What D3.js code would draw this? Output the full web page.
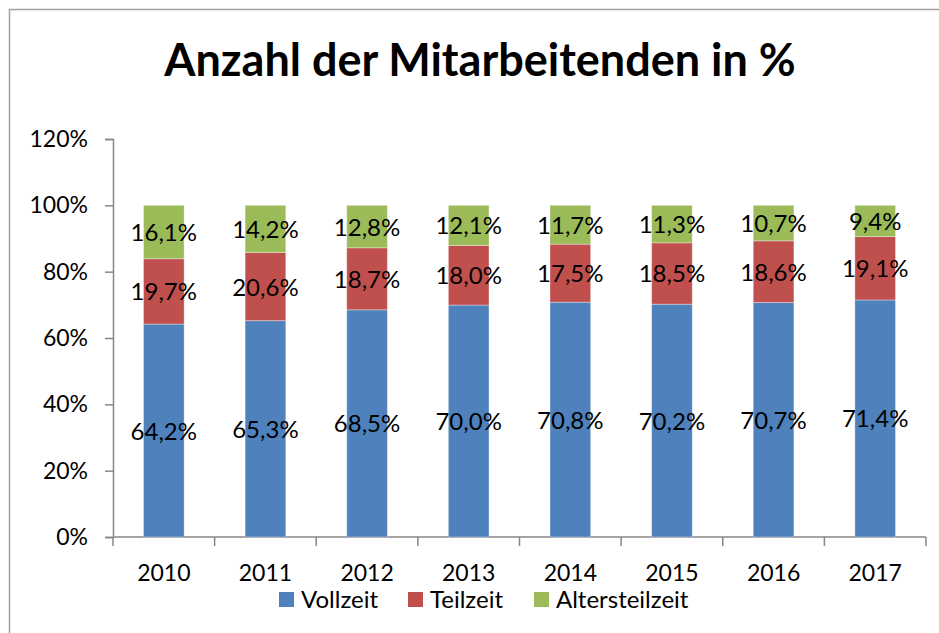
<!DOCTYPE html>
<html>
<head>
<meta charset="utf-8">
<script src="https://cdn.jsdelivr.net/npm/d3@7"></script>
<style>
  html, body { margin: 0; padding: 0; background: #fff; }
  svg { display: block; font-family: Lato, "Open Sans", sans-serif; }
</style>
</head>
<body>
<svg id="chart" width="939" height="633"></svg>
<script>
const years = ["2010", "2011", "2012", "2013", "2014", "2015", "2016", "2017"];
const vollzeit = [64.2, 65.3, 68.5, 70.0, 70.8, 70.2, 70.7, 71.4];
const teilzeit = [19.7, 20.6, 18.7, 18.0, 17.5, 18.5, 18.6, 19.1];
const altersteilzeit = [16.1, 14.2, 12.8, 12.1, 11.7, 11.3, 10.7, 9.4];
const seriesNames = ["Vollzeit", "Teilzeit", "Altersteilzeit"];
const seriesColors = ["#4f81bd", "#c0504d", "#9bbb59"];
const yTicks = [0, 0.2, 0.4, 0.6, 0.8, 1.0, 1.2];

const svg = d3.select("#chart");
const margin = { left: 113, right: 13, top: 139, bottom: 96 };
const width = 939, height = 633;
const axisColor = "#868686";

// chart frame (only top and left edges are in view)
svg.append("path")
    .attr("d", `M9.5,${height} V9.5 H${width}`)
    .attr("fill", "none")
    .attr("stroke", "#a0a0a0")
    .attr("stroke-width", 1.5);

svg.append("text")
    .attr("x", 480)
    .attr("y", 76)
    .attr("text-anchor", "middle")
    .attr("font-size", 45)
    .attr("font-weight", 700)
    .attr("fill", "#000")
    .text("Anzahl der Mitarbeitenden in %");

const rows = years.map((year, i) => ({
    year,
    Vollzeit: vollzeit[i],
    Teilzeit: teilzeit[i],
    Altersteilzeit: altersteilzeit[i]
}));

const stacked = d3.stack()
    .keys(seriesNames)
    .offset(d3.stackOffsetExpand)(rows);

const x = d3.scaleBand()
    .domain(years)
    .range([margin.left, width - margin.right])
    .paddingInner(0.6)
    .paddingOuter(0.3);

const y = d3.scaleLinear()
    .domain([0, 1.2])
    .range([height - margin.bottom, margin.top]);

const deFormat = d3.formatLocale({ decimal: ",", thousands: ".", grouping: [3], currency: ["", " €"] });
const pct0 = deFormat.format(".0%");

// y axis
const yAxis = svg.append("g")
    .attr("transform", `translate(${margin.left},0)`)
    .call(d3.axisLeft(y).tickValues(yTicks).tickFormat(pct0).tickSize(8).tickPadding(17));
yAxis.select(".domain").attr("stroke", axisColor).attr("stroke-width", 1.5);
yAxis.selectAll(".tick line").attr("stroke", axisColor).attr("stroke-width", 1.5);
yAxis.selectAll(".tick text")
    .attr("font-size", 23)
    .attr("font-family", "Lato, sans-serif")
    .attr("fill", "#000");

// x axis with ticks at category boundaries
const xAxisY = y(0);
const xg = svg.append("g");
xg.append("line")
    .attr("x1", margin.left)
    .attr("x2", width - margin.right)
    .attr("y1", xAxisY)
    .attr("y2", xAxisY)
    .attr("stroke", axisColor)
    .attr("stroke-width", 1.5);

const boundaries = d3.range(years.length + 1).map((i) => margin.left + i * (width - margin.right - margin.left) / years.length);
xg.selectAll("line.xtick")
    .data(boundaries)
    .join("line")
    .attr("class", "xtick")
    .attr("x1", (d) => d)
    .attr("x2", (d) => d)
    .attr("y1", xAxisY)
    .attr("y2", xAxisY + 9)
    .attr("stroke", axisColor)
    .attr("stroke-width", 1.5);

xg.selectAll("text.xlabel")
    .data(years)
    .join("text")
    .attr("class", "xlabel")
    .attr("x", (d) => x(d) + x.bandwidth() / 2)
    .attr("y", xAxisY + 44)
    .attr("text-anchor", "middle")
    .attr("font-size", 23)
    .attr("fill", "#000")
    .text((d) => d);

// bars
const layers = svg.append("g")
    .selectAll("g.layer")
    .data(stacked)
    .join("g")
    .attr("class", "layer")
    .attr("fill", (d, i) => seriesColors[i]);

layers.selectAll("rect")
    .data((d) => d)
    .join("rect")
    .attr("x", (d) => x(d.data.year))
    .attr("y", (d) => y(d[1]))
    .attr("width", x.bandwidth())
    .attr("height", (d) => y(d[0]) - y(d[1]))
    .attr("stroke", "rgba(255,255,255,0.35)")
    .attr("stroke-width", 1);

// data labels
const labelFmt = deFormat.format(".1f");
svg.append("g")
    .selectAll("g.labels")
    .data(stacked)
    .join("g")
    .selectAll("text")
    .data((layer) => layer.map((d) => ({ d, key: layer.key })))
    .join("text")
    .attr("x", (e) => x(e.d.data.year) + x.bandwidth() / 2)
    .attr("y", (e) => (y(e.d[0]) + y(e.d[1])) / 2 + 9)
    .attr("text-anchor", "middle")
    .attr("font-size", 24)
    .attr("fill", "#000")
    .text((e) => labelFmt(e.d.data[e.key]) + "%");

// legend
const legendItems = [
    { name: seriesNames[0], color: seriesColors[0], x: 279 },
    { name: seriesNames[1], color: seriesColors[1], x: 408 },
    { name: seriesNames[2], color: seriesColors[2], x: 534 }
];
const legend = svg.append("g").attr("transform", "translate(0,592)");
const li = legend.selectAll("g")
    .data(legendItems)
    .join("g")
    .attr("transform", (d) => `translate(${d.x},0)`);
li.append("rect")
    .attr("width", 15)
    .attr("height", 15)
    .attr("fill", (d) => d.color);
li.append("text")
    .attr("x", 22)
    .attr("y", 16)
    .attr("font-size", 24)
    .attr("fill", "#000")
    .text((d) => d.name);
</script>
</body>
</html>
